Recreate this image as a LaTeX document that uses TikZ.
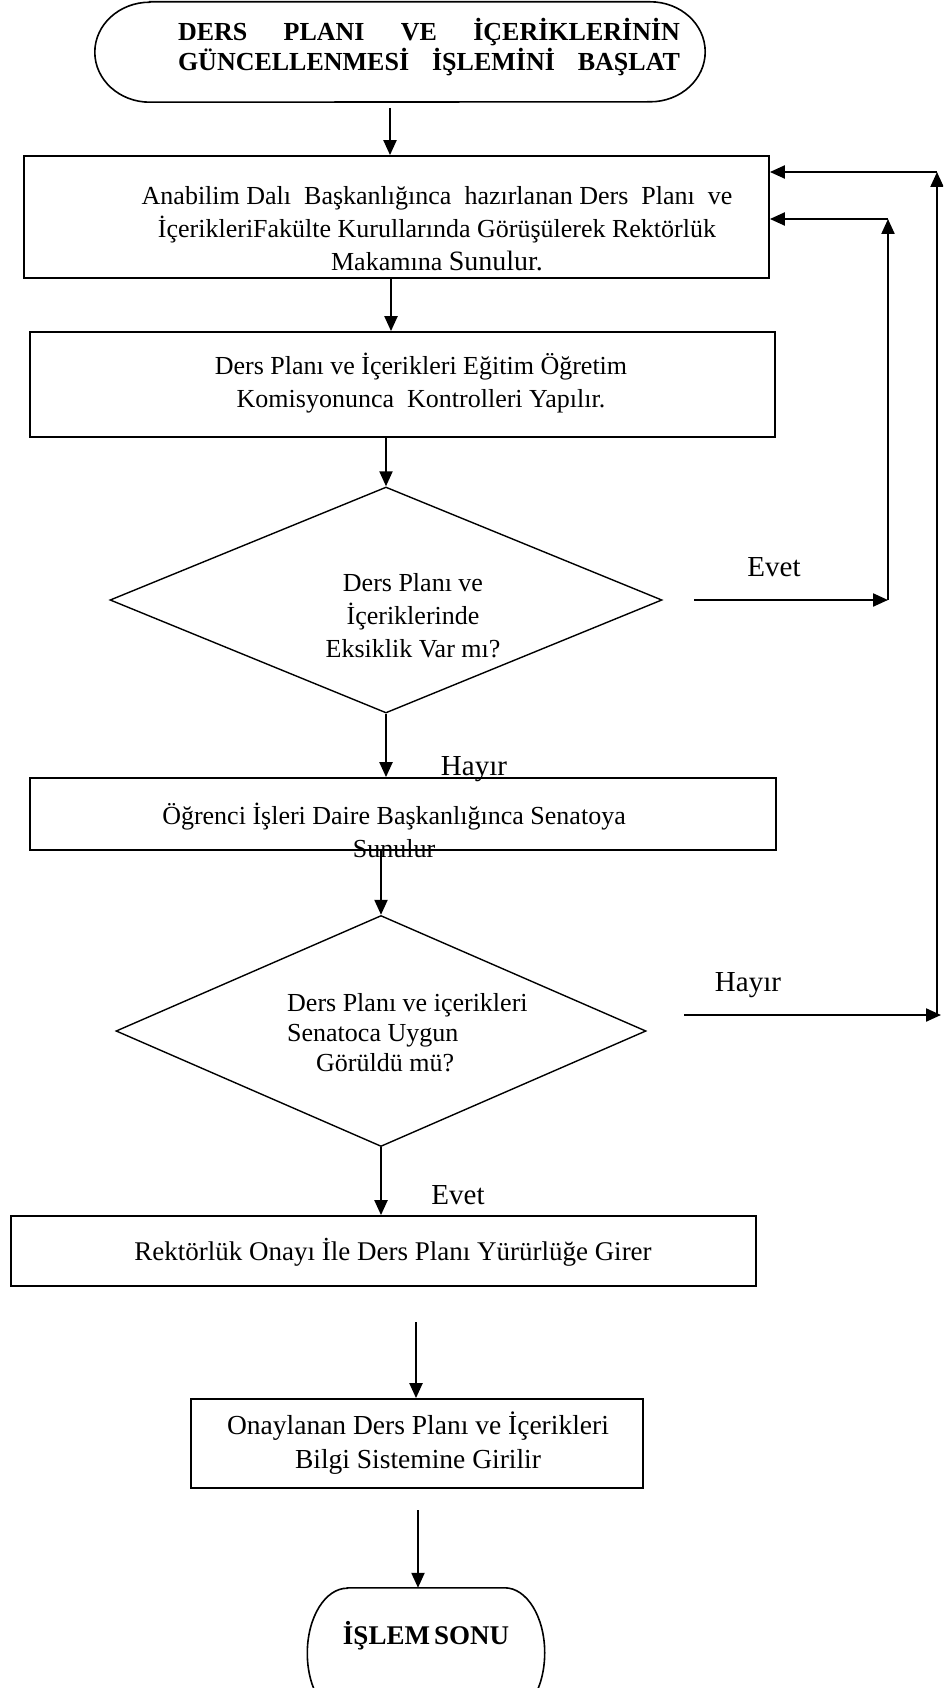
\documentclass[tikz,border=0pt]{standalone}
\usepackage{fontspec}
\setmainfont{Liberation Serif}
\usetikzlibrary{shapes.geometric,arrows.meta}

\begin{document}
\begin{tikzpicture}[x=1pt,y=-1pt,
  box/.style={draw, line width=1.8pt, rectangle, inner sep=0pt},
  dec/.style={draw, line width=1.4pt, diamond, inner sep=0pt},
  termbase/.style={rectangle, inner sep=0pt},
  termline/.style={line width=1.6pt},
  txt/.style={align=center, font=\fontsize{26}{33}\selectfont, inner sep=0pt},
  lbl/.style={font=\fontsize{29}{33}\selectfont, inner sep=0pt},
  flow/.style={line width=2.2pt, -{Triangle[length=15pt,width=13pt]}},
  plain/.style={line width=2.2pt}
]
\useasboundingbox (0,0) rectangle (943,1688);
\clip (0,0) rectangle (943,1688);
\fill[white] (0,0) rectangle (943,1688);

% --- start terminator
\node[termbase, minimum width=610pt, minimum height=100pt] (start) at (400,52) {};
\draw[termline] ([xshift=55pt]start.north west) -- ([xshift=-55pt]start.north east)
  arc[start angle=90, end angle=-90, x radius=55pt, y radius=50pt]
  -- ([xshift=55pt]start.south west)
  arc[start angle=270, end angle=90, x radius=55pt, y radius=50pt] -- cycle;
\node[txt, font=\fontsize{26}{30}\selectfont\bfseries] (starttxt) at (429,47)
  {\makebox[502pt][s]{DERS PLANI VE İÇERİKLERİNİN}\\
   \makebox[502pt][s]{GÜNCELLENMESİ İŞLEMİNİ BAŞLAT}};

% --- process boxes
\node[box, minimum width=745pt, minimum height=122pt] (b1) at (396.5,217) {};
\node[txt] (b1txt) at (437,229)
  {Anabilim Dalı\ \ Başkanlığınca\ \ hazırlanan Ders\ \ Planı\ \ ve\\
   İçerikleriFakülte Kurullarında Görüşülerek Rektörlük\\
   Makamına {\fontsize{28}{33}\selectfont Sunulur.}};

\node[box, minimum width=745pt, minimum height=105pt] (b2) at (402.5,384.5) {};
\node[txt] (b2txt) at (421,383)
  {Ders Planı ve İçerikleri Eğitim Öğretim\\
   Komisyonunca\ \ Kontrolleri Yapılır.};

\node[dec, minimum width=552pt, minimum height=226pt] (d1) at (386,600) {};
\node[txt] (d1txt) at (413,616)
  {Ders Planı ve\\ İçeriklerinde\\ Eksiklik Var mı?};

\node[box, minimum width=746pt, minimum height=72pt] (b3) at (403,814) {};
\node[txt] (b3txt) at (394,830)
  {Öğrenci İşleri Daire Başkanlığınca Senatoya\\ Sunulur};

\node[dec, minimum width=530pt, minimum height=231pt] (d2) at (381,1031) {};
\node[txt, align=left, anchor=west, font=\fontsize{26}{30}\selectfont] (d2txt) at (287,1033)
  {Ders Planı ve içerikleri\\ Senatoca Uygun\\ \hspace*{29pt}Görüldü mü?};

\node[box, minimum width=745pt, minimum height=70pt] (b4) at (383.5,1251) {};
\node[txt, font=\fontsize{27}{33}\selectfont] (b4txt) at (393,1252)
  {Rektörlük Onayı İle Ders Planı Yürürlüğe Girer};

\node[box, minimum width=452pt, minimum height=89pt] (b5) at (417,1443.5) {};
\node[txt, font=\fontsize{27.5}{34}\selectfont] (b5txt) at (418,1443)
  {Onaylanan Ders Planı ve İçerikleri\\ Bilgi Sistemine Girilir};

% --- end terminator
\node[termbase, minimum width=237pt, minimum height=130pt] (endn) at (426,1653) {};
\draw[termline] ([xshift=40pt]endn.north west) -- ([xshift=-40pt]endn.north east)
  arc[start angle=90, end angle=-90, x radius=40pt, y radius=65pt]
  -- ([xshift=40pt]endn.south west)
  arc[start angle=270, end angle=90, x radius=40pt, y radius=65pt] -- cycle;
\node[inner sep=0pt, font=\fontsize{27}{30}\selectfont\bfseries] (endtxt) at (426,1636)
  {İŞLEM\hspace{4pt}SONU};

% --- free ends of the connectors
\coordinate (a1s) at (390,108);
\coordinate (a7s) at (416,1322);
\coordinate (a8s) at (418,1510);
\coordinate (yesA) at (694,600);
\coordinate (yesB) at (888,600);
\coordinate (yesC) at (888,219);
\coordinate (noA) at (684,1015);
\coordinate (noB) at (941,1015);
\coordinate (noC) at (937,1015);
\coordinate (noD) at (937,172);

% --- main flow
\draw[flow] (a1s) -- (a1s |- b1.north);
\draw[flow] ([xshift=-5.5pt]b1.south) -- ([xshift=-5.5pt]b1.south |- b2.north);
\draw[flow] (b2.south -| d1.north) -- (d1.north);
\draw[flow] (d1.south) -- (d1.south |- b3.north);
\draw[flow] (b3.south -| d2.north) -- (d2.north);
\draw[flow] (d2.south) -- (d2.south |- b4.north);
\draw[flow] (a7s) -- (a7s |- b5.north);
\draw[flow] (a8s) -- (a8s |- endn.north);

% --- loop back: Evet from first decision
\draw[flow] (yesA) -- (yesB);
\draw[flow] (yesB) -- (yesC);
\draw[flow] (yesC) -- (yesC -| b1.east);

% --- loop back: Hayır from second decision
\draw[flow] (noA) -- (noB);
\draw[flow] (noC) -- (noD);
\draw[flow] (noD) -- (noD -| b1.east);

% --- branch labels
\node[lbl] (lyes1) at (774,567) {Evet};
\node[lbl] (lno1) at (474,769) {Hayır};
\node[lbl] (lno2) at (748,985) {Hayır};
\node[lbl] (lyes2) at (458,1195) {Evet};
\end{tikzpicture}
\end{document}
